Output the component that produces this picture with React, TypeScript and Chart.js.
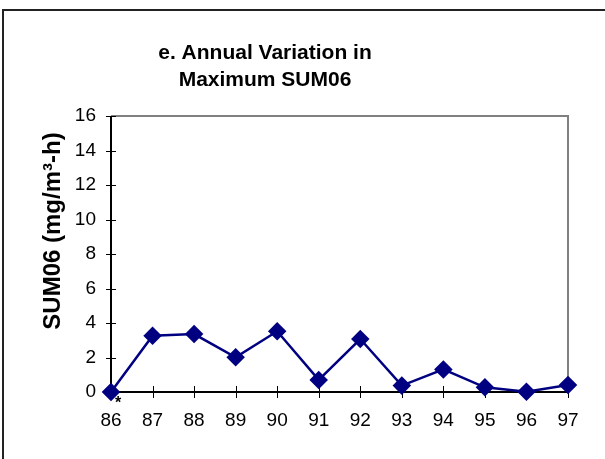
import React, { useEffect, useRef } from "react";
import { Chart, registerables } from "chart.js";

Chart.register(...registerables);

const years = ["86", "87", "88", "89", "90", "91", "92", "93", "94", "95", "96", "97"];
const sum06 = [0, 3.26, 3.36, 2.01, 3.52, 0.7, 3.07, 0.37, 1.31, 0.27, 0.02, 0.41];
const titleLines = ["e. Annual Variation in", "Maximum SUM06"];
const yAxisTitle = "SUM06 (mg/m\u00B3-h)";
const yMin = 0;
const yMax = 16;
const yStep = 2;
const noteMark = "*";

const FONT = "'Liberation Sans', Arial, sans-serif";

const framePlugin = {
  id: "framePlugin",
  beforeDatasetsDraw(chart: any) {
    const { ctx, chartArea, scales } = chart;
    const { left, right, top, bottom } = chartArea;
    ctx.save();
    ctx.strokeStyle = "#808080";
    ctx.lineWidth = 2;
    ctx.beginPath();
    ctx.moveTo(left, top);
    ctx.lineTo(right, top);
    ctx.lineTo(right, bottom);
    ctx.stroke();
    ctx.strokeStyle = "#000000";
    ctx.lineWidth = 2;
    ctx.beginPath();
    ctx.moveTo(left, top);
    ctx.lineTo(left, bottom);
    ctx.lineTo(right, bottom);
    ctx.stroke();
    ctx.lineWidth = 1;
    const x = scales.x;
    for (let i = 0; i < x.ticks.length; i++) {
      const px = Math.round(x.getPixelForTick(i)) + 0.5;
      ctx.beginPath();
      ctx.moveTo(px, bottom - 6);
      ctx.lineTo(px, bottom + 6);
      ctx.stroke();
    }
    const y = scales.y;
    for (let i = 0; i < y.ticks.length; i++) {
      const py = Math.round(y.getPixelForTick(i)) + 0.5;
      ctx.beginPath();
      ctx.moveTo(left - 5, py);
      ctx.lineTo(left + 5, py);
      ctx.stroke();
    }
    ctx.restore();
  },
  afterDraw(chart: any) {
    const { ctx, scales, chartArea } = chart;
    ctx.save();
    // outer frame
    ctx.strokeStyle = "#222222";
    ctx.lineWidth = 2;
    ctx.beginPath();
    ctx.moveTo(3, chart.height);
    ctx.lineTo(3, 10);
    ctx.lineTo(chart.width, 10);
    ctx.stroke();
    // chart title
    ctx.fillStyle = "#000000";
    ctx.textAlign = "center";
    ctx.textBaseline = "middle";
    ctx.font = "bold 21px " + FONT;
    ctx.fillText(titleLines[0], 265, 53);
    ctx.fillText(titleLines[1], 265, 80);
    // y axis title
    ctx.save();
    ctx.translate(53, 231);
    ctx.rotate(-Math.PI / 2);
    ctx.font = "bold 24px " + FONT;
    ctx.fillText(yAxisTitle, 0, 0);
    ctx.restore();
    // asterisk note under first point
    ctx.font = "bold 16px " + FONT;
    ctx.fillText(noteMark, scales.x.getPixelForTick(0) + 7, chartArea.bottom + 12);
    ctx.restore();
  },
};

export default function App() {
  const ref = useRef<HTMLCanvasElement | null>(null);
  useEffect(() => {
    if (!ref.current) return;
    const chart = new Chart(ref.current, {
      type: "line",
      data: {
        labels: years,
        datasets: [
          {
            data: sum06,
            borderColor: "#000080",
            backgroundColor: "#000080",
            borderWidth: 2.5,
            pointStyle: "rectRot",
            pointRadius: 7.5,
            pointHoverRadius: 7.5,
            pointBackgroundColor: "#000080",
            pointBorderColor: "#000080",
            tension: 0,
            clip: false as any,
          },
        ],
      },
      options: {
        animation: false,
        responsive: false,
        maintainAspectRatio: false,
        layout: { padding: { left: 0, right: 37, top: 116, bottom: 0 } },
        plugins: {
          legend: { display: false },
          tooltip: { enabled: false },
          title: { display: false },
        },
        scales: {
          x: {
            offset: false,
            grid: { display: false, drawTicks: false },
            border: { display: false },
            ticks: {
              color: "#000000",
              font: { family: FONT, size: 19 },
              padding: 17,
              maxRotation: 0,
              autoSkip: false,
            },
            afterFit(scale: any) {
              scale.height = 67;
            },
          },
          y: {
            min: yMin,
            max: yMax,
            grid: { display: false, drawTicks: false },
            border: { display: false },
            ticks: {
              stepSize: yStep,
              color: "#000000",
              font: { family: FONT, size: 19 },
              padding: 15,
            },
            afterFit(scale: any) {
              scale.width = 111;
            },
          },
        },
      },
      plugins: [framePlugin],
    });
    return () => chart.destroy();
  }, []);
  return (
    <div style={{ position: "fixed", left: 0, top: 0, width: 605, height: 459, background: "#ffffff" }}>
      <canvas ref={ref} width={605} height={459} style={{ display: "block" }} />
    </div>
  );
}
